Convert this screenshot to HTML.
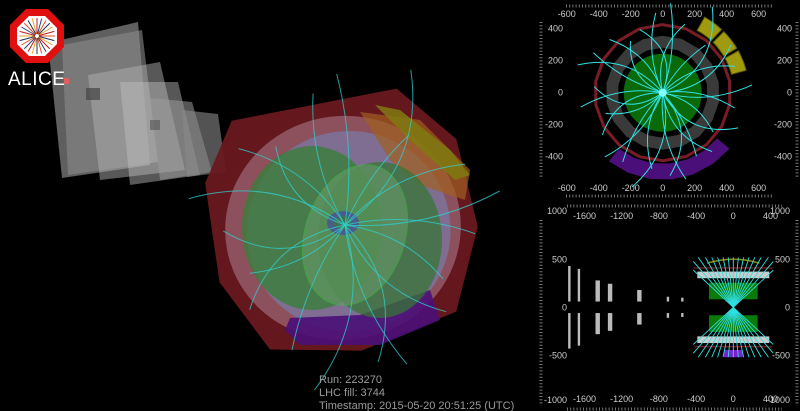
<!DOCTYPE html>
<html><head><meta charset="utf-8"><style>
html,body{margin:0;padding:0;background:#000;}
svg{display:block;}
text{font-family:"Liberation Sans",sans-serif;}
</style></head><body>
<svg id="s" width="800" height="411" viewBox="0 0 800 411" xmlns="http://www.w3.org/2000/svg">
<rect width="800" height="411" fill="#000"/>

<!-- left gray muon detectors -->
<g>
  <polygon points="48,43 138,22 150,165 62,178" fill="#707070" opacity="0.85"/>
  <polygon points="62,45 142,30 158,162 68,175" fill="#8a8a8a" opacity="0.6"/>
  <polygon points="88,75 160,62 185,170 100,180" fill="#b0b0b0" opacity="0.5"/>
  <polygon points="120,82 178,82 200,175 130,185" fill="#c0c0c0" opacity="0.45"/>
  <polygon points="150,98 192,102 212,172 160,180" fill="#9a9a9a" opacity="0.55"/>
  <polygon points="182,110 218,114 226,172 187,177" fill="#8a8a8a" opacity="0.6"/>
  <rect x="86" y="88" width="14" height="12" fill="#444" opacity="0.7"/>
  <rect x="150" y="120" width="10" height="10" fill="#555" opacity="0.6"/>
</g>

<!-- main 3D barrel -->
<g>
  <g transform="rotate(-10 343 228)">
    <polygon points="252,103 420,100 470,160 476,250 440,330 340,352 250,335 212,260 215,160" fill="#6a1820" opacity="0.95"/>
    <ellipse cx="343" cy="228" rx="118" ry="112" fill="#96606c" opacity="0.8"/>
    <ellipse cx="348" cy="232" rx="102" ry="100" fill="#7c76a0" opacity="0.8"/>
  </g>
  <polygon points="360,112 420,120 470,170 465,200 420,185 390,160" fill="#a06020" opacity="0.7"/>
  <polygon points="375,105 400,110 450,150 470,175 455,180 410,140" fill="#807a10" opacity="0.85"/>
  <polygon points="290,318 360,315 430,290 440,320 380,345 300,345 285,330" fill="#4a1078" opacity="0.9"/>
  <ellipse cx="312" cy="228" rx="70" ry="82" fill="#3a7e3a" opacity="0.8"/>
  <ellipse cx="380" cy="240" rx="62" ry="78" fill="#357535" opacity="0.75"/>
  <ellipse cx="355" cy="235" rx="50" ry="72" transform="rotate(18 355 235)" fill="#6c9e6c" opacity="0.55" stroke="#40c040" stroke-width="1"/>
  <ellipse cx="343" cy="223" rx="16" ry="12" fill="#485890" opacity="0.9"/>
  <ellipse cx="343" cy="223" rx="9" ry="7" fill="#407050"/>
</g>
<g id="mainTracks"></g>

<!-- logo -->
<g>
  <polygon points="26,9 48,9 64,25 64,47 48,63 26,63 10,47 10,25" fill="#e01010"/>
  <polygon points="29,16 45,16 57,28 57,44 45,56 29,56 17,44 17,28" fill="#fff"/>
  <g id="burst" stroke-width="1"></g>
  <text x="8" y="85" font-size="19" fill="#fff" font-family="Liberation Mono, monospace" letter-spacing="0.5">ALICE</text>
  <rect x="64" y="78" width="5" height="6" fill="#e06060"/>
</g>

<!-- info text -->
<g font-size="11" fill="#9a9a9a">
  <text x="319" y="383">Run: 223270</text>
  <text x="319" y="396">LHC fill: 3744</text>
  <text x="319" y="409">Timestamp: 2015-05-20 20:51:25 (UTC)</text>
</g>

<g id="rphi"></g>
<g id="rz"></g>
</svg>
<script>
const NS='http://www.w3.org/2000/svg';
function mk(parent,tag,attrs){const e=document.createElementNS(NS,tag);for(const k in attrs)e.setAttribute(k,attrs[k]);parent.appendChild(e);return e;}

// ---- data arrays ----
const rphiTicks=[-600,-400,-200,0,200,400,600];
const rphiYTicks=[400,200,0,-200,-400];
const rzXTicks=[-1600,-1200,-800,-400,0,400];
const rzYTicks=[500,0,-500];
const trackAngles=[5,20,35,48,60,72,85,95,110,122,135,150,162,175,190,200,215,228,240,252,262,275,285,298,310,322,335,348];
const trackLengths=[560,480,520,400,620,450,560,500,420,380,470,500,560,430,520,380,460,540,500,620,480,520,560,450,480,400,520,460];
const trackBend=[0.3,-0.4,0.5,-0.2,0.6,-0.5,0.2,-0.3,0.7,-0.6,0.4,-0.2,0.5,-0.7,0.3,-0.4,0.6,-0.3,0.2,-0.5,0.4,-0.6,0.3,-0.2,0.5,-0.4,0.6,-0.3];
const rzTrackAngles=[-42,-36,-30,-24,-18,-12,-6,0,6,12,18,24,30,36,42,-48,48];
const rzBars=[-1763,-1660,-1458,-1325,-1010,-703,-548];
const rzBarExt=[430,400,280,245,180,110,100];
const phosAngles=[22,38,54];

const burst=document.getElementById('burst');
const bc=['#e05020','#203050','#f0a020','#c02020','#304070'];
for(let i=0;i<24;i++){const a=i*Math.PI/12;mk(burst,'line',{x1:37+2*Math.cos(a),y1:36+2*Math.sin(a),x2:37+18*Math.cos(a),y2:36+18*Math.sin(a),stroke:bc[i%5]});}

// ---- rphi view ----
const rp=document.getElementById('rphi');
const X1=v=>662.7+v*0.16, Y1=v=>92.7-v*0.16;
function dotted(g,x1,y1,x2,y2){return mk(g,'line',{x1,y1,x2,y2,stroke:'#777','stroke-width':3,'stroke-dasharray':'1 2.2'});}
dotted(rp,566,6,772,6);dotted(rp,566,196,772,196);dotted(rp,541,22,541,178);dotted(rp,797,22,797,178);
rphiTicks.forEach(v=>{
 const t=mk(rp,'text',{x:X1(v),y:17,'font-size':9,fill:'#ccc','text-anchor':'middle'});t.textContent=v;
 
 const b=mk(rp,'text',{x:X1(v),y:191,'font-size':9,fill:'#ccc','text-anchor':'middle'});b.textContent=v;
 
});
rphiYTicks.forEach(v=>{
 const t=mk(rp,'text',{x:563,y:Y1(v)+3,'font-size':9,fill:'#ccc','text-anchor':'end'});t.textContent=v;
 
 const b=mk(rp,'text',{x:792,y:Y1(v)+3,'font-size':9,fill:'#ccc','text-anchor':'end'});b.textContent=v;
 
});
function poly(g,cx,cy,r,n,rot,attrs){let p=[];for(let i=0;i<n;i++){const a=rot+i*2*Math.PI/n;p.push((cx+r*Math.cos(a)).toFixed(1)+','+(cy+r*Math.sin(a)).toFixed(1));}return mk(g,'polygon',Object.assign({points:p.join(' ')},attrs));}
// purple arc segment
function arcSeg(g,a1,a2,r1,r2,attrs){const pts=[];for(let a=a1;a<=a2+0.01;a+=(a2-a1)/6){const t=a*Math.PI/180;pts.push(X1(r1*Math.cos(t)).toFixed(1)+','+Y1(r1*Math.sin(t)).toFixed(1));}
 for(let a=a2;a>=a1-0.01;a-=(a2-a1)/6){const t=a*Math.PI/180;pts.push(X1(r2*Math.cos(t)).toFixed(1)+','+Y1(r2*Math.sin(t)).toFixed(1));}
 return mk(g,'polygon',Object.assign({points:pts.join(' ')},attrs));}
arcSeg(rp,-128,-40,445,545,{fill:'#4a0f78',});
phosAngles.forEach(a=>{
 const s=arcSeg(rp,a-7,a+7,445,540,{fill:'#a09a10',stroke:'#605a00','stroke-width':1});
 
 
});
poly(rp,X1(0),Y1(0),68,18,0.17,{fill:'none',stroke:'#7a1c26','stroke-width':3});
poly(rp,X1(0),Y1(0),57,18,0.17,{fill:'#3a3a3a'});
poly(rp,X1(0),Y1(0),45,18,0.17,{fill:'#000'});
mk(rp,'circle',{cx:X1(0),cy:Y1(0),r:39,fill:'#0a6a0a',});
trackAngles.forEach((a,i)=>{
 const r=trackLengths[i]*0.16,th=a*Math.PI/180,cx=X1(0),cy=Y1(0);
 const ex=cx+r*Math.cos(th),ey=cy-r*Math.sin(th);
 const b=trackBend[i]*r;
 const mx=(cx+ex)/2+b*Math.sin(th)*0.6,my=(cy+ey)/2+b*Math.cos(th)*0.6;
 const p=mk(rp,'path',{d:`M${cx},${cy} Q${mx.toFixed(1)},${my.toFixed(1)} ${ex.toFixed(1)},${ey.toFixed(1)}`,fill:'none',stroke:'#30e0e0','stroke-width':1});
 
 
});
mk(rp,'circle',{cx:X1(0),cy:Y1(0),r:4,fill:'#80ffff'});

// ---- rz view ----
const rz=document.getElementById('rz');
const X2=v=>733.3+v*0.093, Y2=v=>307.3-v*0.096;
dotted(rz,567,206,782,206);dotted(rz,567,409,782,409);dotted(rz,541,220,541,405);dotted(rz,797,220,797,405);
rzXTicks.forEach(v=>{
 const t=mk(rz,'text',{x:X2(v),y:219,'font-size':9,fill:'#ccc','text-anchor':'middle'});t.textContent=v;
 
 const b=mk(rz,'text',{x:X2(v),y:402,'font-size':9,fill:'#ccc','text-anchor':'middle'});b.textContent=v;
 
});
[1000,-1000].concat(rzYTicks).forEach(v=>{
 const y=v===1000?214:(v===-1000?403:Y2(v)+3);
 const t=mk(rz,'text',{x:567,y:y,'font-size':9,fill:'#ccc','text-anchor':'end'});t.textContent=v;
 
 const b=mk(rz,'text',{x:790,y:y,'font-size':9,fill:'#ccc','text-anchor':'end'});b.textContent=v;
 
});
rzBars.forEach((x,i)=>{
 const w=i<2||i>4?1.2:2.2;
 [1,-1].forEach(s=>{
  const y1=Y2(s*rzBarExt[i]),y2=Y2(s*60);
  const r=mk(rz,'rect',{x:X2(x)-w,y:Math.min(y1,y2),width:w*2,height:Math.abs(y2-y1),fill:'#bbb'});
  
  
 });
});
[1,-1].forEach(s=>{
 mk(rz,'line',{x1:X2(-420),x2:X2(420),y1:Y2(s*410),y2:Y2(s*410),stroke:'#6a1c26','stroke-width':1.5});
 const gb=mk(rz,'rect',{x:X2(-387),y:Math.min(Y2(s*372),Y2(s*303)),width:X2(387)-X2(-387),height:Math.abs(Y2(s*372)-Y2(s*303)),fill:'#ccc'});
 
 const gr=mk(rz,'rect',{x:X2(-261),y:Math.min(Y2(s*256),Y2(s*83)),width:X2(262)-X2(-261),height:Math.abs(Y2(s*256)-Y2(s*83)),fill:'#0a7a0a'});
 
});
mk(rz,'path',{d:`M${X2(-280)},${Y2(460)} Q${X2(0)},${Y2(540)} ${X2(280)},${Y2(460)}`,fill:'none',stroke:'#8a8a10','stroke-width':1.5});
mk(rz,'rect',{x:X2(-100),y:Y2(-445),width:X2(100)-X2(-100),height:Y2(-520)-Y2(-445),fill:'#7a20d0'});
rzTrackAngles.forEach((a,i)=>{
 [1,-1].forEach(s=>{
  const th=a*Math.PI/180,L=520/Math.cos(th);
  let ex=L*Math.sin(th),ey=s*520;
  if(Math.abs(ex)>430){ey=ey*430/Math.abs(ex);ex=Math.sign(ex)*430;}
  const l=mk(rz,'line',{x1:X2(0),y1:Y2(0),x2:X2(ex),y2:Y2(ey),stroke:'#30e0e0','stroke-width':0.9});
  
  
 });
});

// ---- main 3D tracks ----
const mt=document.getElementById('mainTracks');
trackAngles.forEach((a,i)=>{
 if(i%3===2) return;
 const r=trackLengths[i]*0.27,th=(a+8)*Math.PI/180,cx=345,cy=225;
 const ex=cx+r*Math.cos(th)*1.05,ey=cy-r*Math.sin(th);
 const b=trackBend[i]*r;
 const mx=(cx+ex)/2+b*Math.sin(th)*0.5,my=(cy+ey)/2+b*Math.cos(th)*0.5;
 const p=mk(mt,'path',{d:`M${cx},${cy} Q${mx.toFixed(1)},${my.toFixed(1)} ${ex.toFixed(1)},${ey.toFixed(1)}`,fill:'none',stroke:'#30d0d0','stroke-width':1,opacity:0.75});
 
 
});
</script>
</body></html>
